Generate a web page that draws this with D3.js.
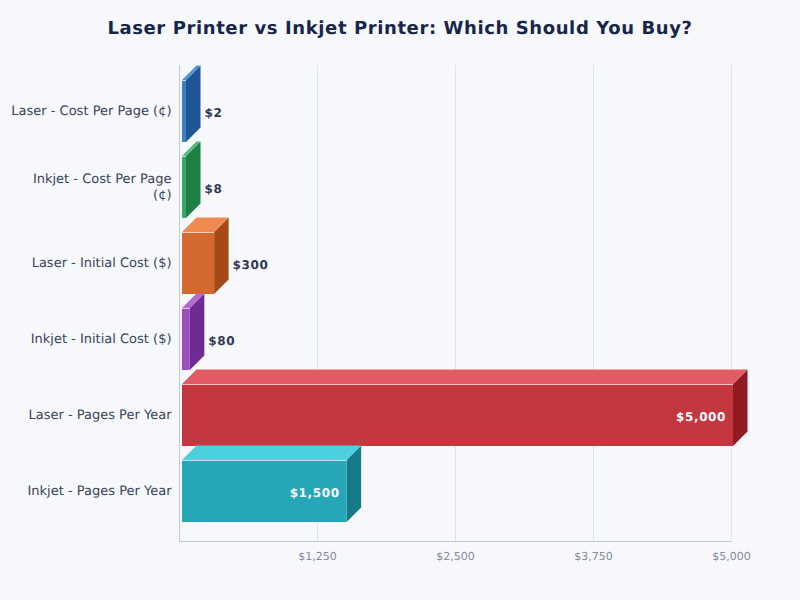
<!DOCTYPE html>
<meta charset="utf-8">
<style>
  html, body { margin: 0; padding: 0; background: #f6f8fc; }
  svg { display: block; font-family: "DejaVu Sans", sans-serif; text-rendering: geometricPrecision; }
</style>
<svg id="chart" width="800" height="600"></svg>

<script src="https://d3js.org/d3.v7.min.js"></script>
<script>
  var categories = ["Laser - Cost Per Page (¢)", "Inkjet - Cost Per Page (¢)", "Laser - Initial Cost ($)",
    "Inkjet - Initial Cost ($)", "Laser - Pages Per Year", "Inkjet - Pages Per Year"];
  var values = [2, 8, 300, 80, 5000, 1500];
  var tickValues = [1250, 2500, 3750, 5000];
  var frontColors = ["#3d80c4", "#3aa866", "#d4692f", "#9b50bf", "#c4373e", "#26a7b8"];
  var topColors = ["#4f93d6", "#4fbb7e", "#ee8a4f", "#b56ad2", "#e25a63", "#4dd0dd"];
  var sideColors = ["#1f5796", "#1f8045", "#a34a17", "#702a96", "#911b22", "#167b88"];

  var svg = d3.select("#chart");
  var left = 179, right = 731, top_ = 65, bottom = 541;
  var depth = 14.5;

  var x = d3.scaleLinear().domain([0, 5000]).range([left, right]);
  var y = d3.scaleBand().domain(categories).range([73, 529])
    .paddingInner(14 / 76).paddingOuter(7 / 76);

  svg.append("text")
    .attr("x", 400).attr("y", 34)
    .attr("text-anchor", "middle")
    .style("font-size", "18px").style("font-weight", "bold").style("fill", "#16264a")
    .style("letter-spacing", "0.6px")
    .text("Laser Printer vs Inkjet Printer: Which Should You Buy?");

  // grid lines and tick labels
  var xAxis = svg.append("g")
    .attr("transform", "translate(0," + bottom + ")")
    .call(d3.axisBottom(x).tickValues(tickValues).tickSize(-(bottom - top_)).tickPadding(11)
      .tickFormat(function (d) { return "$" + d3.format(",")(d); }));
  xAxis.select(".domain").remove();
  xAxis.selectAll("line").style("stroke", "#dfe2e8");
  xAxis.selectAll("text")
    .style("font-family", "DejaVu Sans").style("font-size", "11px").style("fill", "#828a99");

  svg.append("line").attr("x1", left + 0.5).attr("x2", left + 0.5).attr("y1", top_).attr("y2", bottom + 0.5)
    .style("stroke", "#c3c7d0");
  svg.append("line").attr("x1", left).attr("x2", right + 0.5).attr("y1", bottom + 0.5).attr("y2", bottom + 0.5)
    .style("stroke", "#c3c7d0");

  // category labels, wrapped at the margin
  var yAxis = svg.append("g")
    .attr("transform", "translate(" + left + ",0)")
    .call(d3.axisLeft(y).tickSize(0).tickPadding(7.5));
  yAxis.select(".domain").remove();
  yAxis.selectAll("text")
    .style("font-family", "DejaVu Sans").style("font-size", "13px").style("fill", "#3a4558")
    .each(function (d) {
      var t = d3.select(this), words = d.split(" "), lines = [], line = "";
      words.forEach(function (w) {
        var next = line ? line + " " + w : w;
        t.text(next);
        if (t.node().getComputedTextLength() > 160.5 && line) { lines.push(line); line = w; } else { line = next; }
      });
      lines.push(line);
      t.text(null).attr("dy", null).attr("y", null);
      lines.forEach(function (l, i) {
        t.append("tspan").attr("x", -7.5)
          .attr("y", -0.5 + (i - (lines.length - 1) / 2) * 16)
          .attr("dy", "0.32em").text(l);
      });
    });

  // the 3d bars: side, top, front, highlight
  var bars = svg.selectAll("g.bar")
    .data(categories)
    .enter().append("g").attr("class", "bar");

  function x0() { return left + 3; }
  function x1(d, i) { return Math.max(x(values[i]) + 2, x0() + 4); }
  function yTop(d) { return y(d); }
  function yBot(d) { return y(d) + y.bandwidth(); }

  bars.append("polygon")
    .attr("points", function (d, i) {
      var r = x1(d, i);
      return [[r, yTop(d)], [r + depth, yTop(d) - depth], [r + depth, yBot(d) - depth], [r, yBot(d)]].join(" ");
    })
    .style("fill", function (d, i) { return sideColors[i]; });

  bars.append("polygon")
    .attr("points", function (d, i) {
      var r = x1(d, i);
      return [[x0(), yTop(d)], [x0() + depth, yTop(d) - depth], [r + depth, yTop(d) - depth], [r, yTop(d)]].join(" ");
    })
    .style("fill", function (d, i) { return topColors[i]; });

  bars.append("rect")
    .attr("x", x0())
    .attr("y", function (d) { return y(d); })
    .attr("width", function (d, i) { return x1(d, i) - x0(); })
    .attr("height", y.bandwidth())
    .style("fill", function (d, i) { return frontColors[i]; });

  bars.append("line")
    .attr("x1", x0())
    .attr("x2", function (d, i) { return x1(d, i); })
    .attr("y1", function (d) { return y(d) + 0.5; })
    .attr("y2", function (d) { return y(d) + 0.5; })
    .style("stroke", "#ffffff").style("stroke-opacity", 0.7);

  // value labels, inside the long bars
  bars.append("text")
    .attr("x", function (d, i) {
      return values[i] >= 1000 ? x1(d, i) - 7 : x1(d, i) + depth + 4;
    })
    .attr("y", function (d) { return y(d) + y.bandwidth() / 2 + 2.5; })
    .attr("dy", "0.32em")
    .attr("text-anchor", function (d, i) { return values[i] >= 1000 ? "end" : "start"; })
    .style("font-size", "12px").style("font-weight", "bold").style("letter-spacing", "0.6px")
    .style("fill", function (d, i) { return values[i] >= 1000 ? "#f7fbff" : "#2f3a52"; })
    .text(function (d, i) { return "$" + d3.format(",")(values[i]); });
</script>
